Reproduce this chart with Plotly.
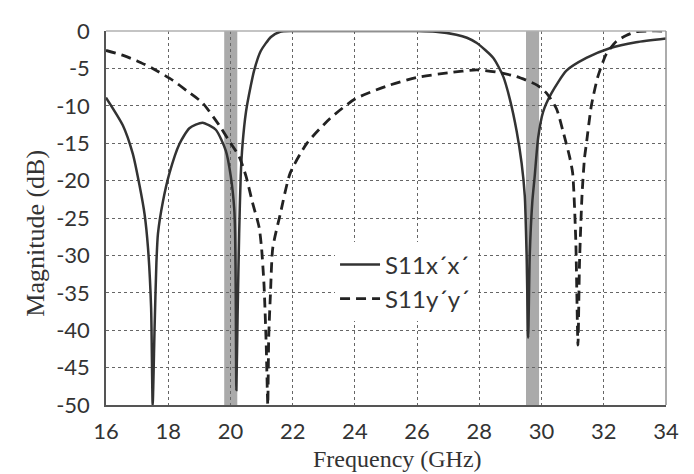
import plotly.graph_objects as go

# S11x'x' (solid)
fx = [16.0, 16.54, 16.86, 17.08, 17.24, 17.35, 17.45, 17.5, 17.56, 17.62, 17.67, 17.83, 18.04, 18.36,
      18.68, 19.1, 19.53, 19.85, 20.01, 20.12, 20.15, 20.17, 20.19, 20.23, 20.28, 20.33, 20.39, 20.5,
      20.65, 20.76, 20.97, 21.3, 21.6, 22.0, 24.0, 26.0, 26.6, 27.26, 27.6, 27.92, 28.45, 28.77, 28.98,
      29.2, 29.36, 29.46, 29.52, 29.57, 29.62, 29.7, 29.78, 29.89, 30.05, 30.32, 30.8, 31.44, 32.19,
      33.04, 34.0]
sx = [-8.9, -12.6, -16.4, -20.7, -24.5, -29, -37, -50, -40, -31, -27.1, -22.8, -19, -15.1,
      -13, -12.25, -13.2, -16, -19.4, -23.7, -27.1, -35, -48, -38, -27.1, -19.4, -15.1, -10.8,
      -7.4, -5.3, -2.7, -0.8, -0.1, 0, 0, 0, -0.1, -0.5, -0.9, -1.6, -3.6, -6.1, -9.1,
      -13.4, -17.7, -22, -30, -41, -30, -23, -19.4, -14.3, -10.8, -8.3, -5.3, -3.6, -2.3,
      -1.5, -1.0]

# S11y'y' (dashed)
fy = [16.0, 16.5, 17.0, 17.5, 18.15, 18.6, 19.1, 19.64, 19.96, 20.28, 20.5, 20.7, 20.92, 21.0, 21.08,
      21.15, 21.2, 21.23, 21.29, 21.36, 21.6, 21.92, 22.46, 23.2, 24.0, 25.0, 26.0, 27.0, 27.92, 28.56,
      29.2, 29.84, 30.16, 30.48, 30.69, 30.9, 31.0, 31.1, 31.17, 31.22, 31.3, 31.38, 31.44, 31.6, 31.81,
      32.08, 32.4, 32.72, 33.04, 33.5, 34.0]
sy = [-2.6, -3.2, -4.0, -5.0, -6.6, -8.0, -9.6, -12.6, -14.7, -16.8, -19.4, -22.8, -26.2, -29, -34,
      -42, -50, -41, -34.7, -29, -24.5, -19, -15, -11.7, -9.1, -7.4, -6.2, -5.6, -5.2, -5.5,
      -6.1, -7.2, -8.3, -10.4, -13.4, -16.8, -19, -28, -42, -31, -22, -17, -15.1, -10, -6.1,
      -3.1, -1.4, -0.6, -0.1, 0, 0]

bands = [(19.8, 20.22), (29.5, 29.92)]
xticks = [16, 18, 20, 22, 24, 26, 28, 30, 32, 34]
yticks = [0, -5, -10, -15, -20, -25, -30, -35, -40, -45, -50]
ytext = ["0", "-5", "-10", "-15", "-20", "-25", "-30", "-35", "-40", "-45", "-50"]

fig = go.Figure()
fig.add_trace(go.Scatter(x=fx, y=sx, mode="lines", name="S11x´x´",
                         line=dict(color="#333333", width=2.5, shape="spline", smoothing=0.6)))
fig.add_trace(go.Scatter(x=fy, y=sy, mode="lines", name="S11y´y´",
                         line=dict(color="#222222", width=2.8, dash="10px,6px",
                                   shape="spline", smoothing=0.6)))

for a, b in bands:
    fig.add_shape(type="rect", xref="x", yref="y domain", x0=a, x1=b, y0=0, y1=1,
                  fillcolor="#aaaaaa", line_width=0, layer="below")

# top/right light border
fig.add_shape(type="line", xref="x domain", yref="y domain", x0=0, x1=1, y0=1, y1=1,
              line=dict(color="#b0b0b0", width=1.5))
fig.add_shape(type="line", xref="x domain", yref="y domain", x0=1, x1=1, y0=0, y1=1,
              line=dict(color="#909090", width=1.5))

tickfont = dict(family="Lato, Open Sans, sans-serif", size=22, color="#333333")
fig.update_xaxes(range=[16, 34], tickvals=xticks, showgrid=True, gridcolor="#666666",
                 griddash="dot", gridwidth=1, showline=True, linecolor="#555555", linewidth=1.5,
                 ticks="", tickfont=tickfont, ticklabelstandoff=6, zeroline=False,
                 ticklabeloverflow="allow")
fig.update_yaxes(range=[-50, 0], tickvals=yticks, ticktext=ytext, showgrid=True, gridcolor="#666666",
                 griddash="dot", gridwidth=1, showline=True, linecolor="#555555", linewidth=1.5,
                 ticks="", tickfont=tickfont, ticklabelstandoff=10, zeroline=False,
                 ticklabeloverflow="allow")

fig.add_annotation(text="Frequency (GHz)", xref="paper", yref="paper", x=0.521, y=-0.145,
                   xanchor="center", yanchor="middle", showarrow=False,
                   font=dict(family="Liberation Serif, Times New Roman, serif", size=24, color="#333333"))
fig.add_annotation(text="Magnitude (dB)", xref="paper", yref="paper", x=-0.125, y=0.458,
                   xanchor="center", yanchor="middle", showarrow=False, textangle=-90,
                   font=dict(family="Liberation Serif, Times New Roman, serif", size=26, color="#333333"))

fig.update_layout(
    width=694, height=474,
    margin=dict(l=98, r=36, t=9, b=77),
    paper_bgcolor="white", plot_bgcolor="white",
    showlegend=True,
    legend=dict(x=0.409, y=0.435, xanchor="left", yanchor="top", bgcolor="white",
                itemwidth=40,
                font=dict(family="Lato, Open Sans, sans-serif", size=24, color="#333333"),
                borderwidth=0),
)

fig.write_html("out.html")
